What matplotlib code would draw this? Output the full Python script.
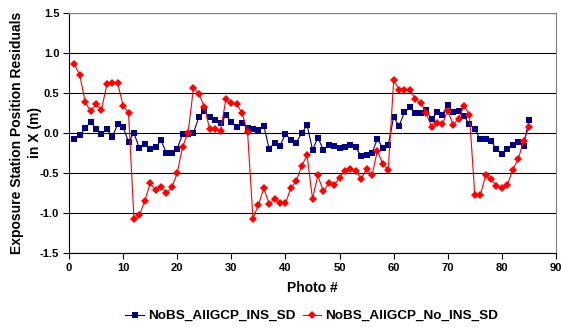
import matplotlib
matplotlib.use("Agg")
import matplotlib.pyplot as plt
import numpy as np

plt.rcParams["font.family"] = ["Liberation Sans", "DejaVu Sans"]
plt.rcParams["font.weight"] = "bold"

photo = list(range(1, 86))

# NoBS_AllGCP_INS_SD (blue squares)
ins_sd = [
    -0.07, -0.03, 0.06, 0.14, 0.05, -0.01, 0.05, -0.05, 0.11, 0.07,
    -0.11, 0.00, -0.19, -0.14, -0.20, -0.18, -0.09, -0.25, -0.25, -0.20,
    -0.01, -0.01, 0.00, 0.20, 0.27, 0.20, 0.16, 0.12, 0.22, 0.14,
    0.07, 0.12, 0.06, 0.05, 0.04, 0.09, -0.20, -0.12, -0.16, -0.01,
    -0.09, -0.12, 0.00, 0.10, -0.21, -0.06, -0.21, -0.15, -0.16, -0.19,
    -0.17, -0.15, -0.18, -0.29, -0.27, -0.25, -0.07, -0.19, -0.15, 0.20,
    0.09, 0.26, 0.32, 0.25, 0.25, 0.29, 0.17, 0.26, 0.23, 0.35,
    0.26, 0.28, 0.21, 0.11, 0.05, -0.08, -0.07, -0.10, -0.20, -0.26,
    -0.20, -0.15, -0.11, -0.16, 0.16,
]

# NoBS_AllGCP_No_INS_SD (red diamonds)
no_ins_sd = [
    0.86, 0.72, 0.39, 0.27, 0.36, 0.29, 0.61, 0.63, 0.62, 0.34,
    0.25, -1.07, -1.03, -0.85, -0.63, -0.71, -0.67, -0.75, -0.68, -0.50,
    -0.17, 0.00, 0.56, 0.49, 0.33, 0.05, 0.05, 0.03, 0.42, 0.37,
    0.36, 0.25, 0.01, -1.07, -0.90, -0.69, -0.89, -0.82, -0.88, -0.88,
    -0.69, -0.60, -0.41, -0.28, -0.82, -0.53, -0.73, -0.63, -0.65, -0.56,
    -0.47, -0.45, -0.48, -0.57, -0.45, -0.53, -0.22, -0.39, -0.46, 0.66,
    0.54, 0.54, 0.54, 0.42, 0.38, 0.25, 0.08, 0.12, 0.11, 0.28,
    0.10, 0.18, 0.34, 0.23, -0.78, -0.78, -0.53, -0.58, -0.66, -0.69,
    -0.65, -0.46, -0.33, -0.10, 0.07,
]

fig = plt.figure(figsize=(5.61, 3.27), dpi=100)
ax = fig.add_axes([69 / 561, 1 - 253 / 327, (556 - 69) / 561, (253 - 13) / 327])

ax.plot(photo, ins_sd, color="#000080", linewidth=0.8, marker="s",
        markersize=4.6, markeredgewidth=0, label="NoBS_AllGCP_INS_SD", zorder=3)
ax.plot(photo, no_ins_sd, color="#ff0000", linewidth=0.8, marker="D",
        markersize=4.4, markeredgewidth=0, label="NoBS_AllGCP_No_INS_SD", zorder=4)

ax.set_xlim(0, 90)
ax.set_ylim(-1.5, 1.5)
ax.set_xticks(np.arange(0, 91, 10))
ax.set_yticks(np.arange(-1.5, 1.51, 0.5))
ax.set_yticklabels([f"{v:.1f}" for v in np.arange(-1.5, 1.51, 0.5)])
ax.tick_params(labelsize=8, length=4, width=0.8, direction="out", pad=3)
for lab in ax.get_xticklabels() + ax.get_yticklabels():
    lab.set_fontweight("bold")

ax.yaxis.grid(True, color="#000000", linewidth=0.8)
ax.set_axisbelow(True)
for side in ("top", "right"):
    ax.spines[side].set_color("#808080")
for side in ("left", "bottom"):
    ax.spines[side].set_color("#000000")

ax.set_xlabel("Photo #", fontsize=10, fontweight="bold", labelpad=6)
fig.text(26 / 561, 1 - 133 / 327, "Exposure Station Position Residuals\nin X (m)",
         rotation=90, ha="center", va="center", multialignment="center",
         fontsize=10, fontweight="bold", linespacing=1.3)

fig.legend(loc="center", bbox_to_anchor=(312 / 561, 1 - 316 / 327), ncol=2,
           frameon=False, prop={"size": 9.7, "weight": "bold"},
           handlelength=1.4, handletextpad=0.3, columnspacing=0.5)

fig.savefig("out.png", dpi=100)
